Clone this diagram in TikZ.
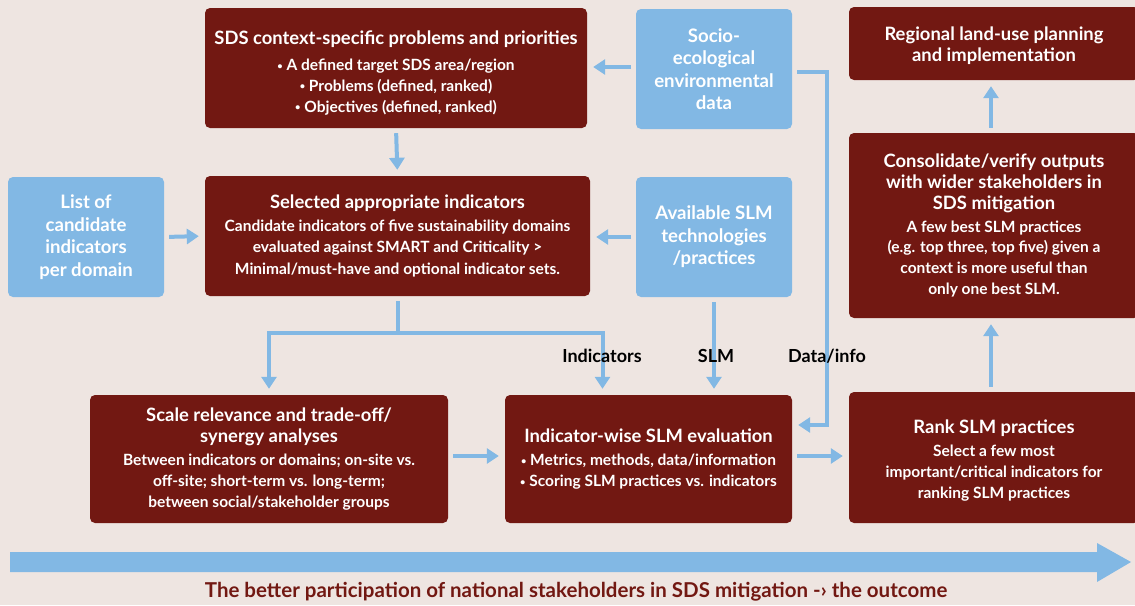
\documentclass[tikz,border=0pt]{standalone}
\usepackage{fontspec}
\setmainfont{Lato}
\usetikzlibrary{arrows.meta,positioning}

\definecolor{boxred}{HTML}{721812}
\definecolor{boxblue}{HTML}{82B8E4}
\definecolor{paper}{HTML}{EEE5E1}

\tikzset{
  redbox/.style={fill=boxred, rounded corners=5pt, text=white, align=center,
    font=\bfseries\fontsize{15.5}{20.8}\selectfont, inner sep=0pt},
  bluebox/.style={fill=boxblue, rounded corners=5pt, text=white, align=center,
    font=\bfseries\fontsize{18.6}{22.5}\selectfont, inner sep=0pt,
    minimum width=156pt, minimum height=120pt},
  flow/.style={draw=boxblue, line width=4pt, shorten <=5pt, shorten >=6pt,
    -{Triangle[length=12pt,width=15pt]}},
  flowlabel/.style={font=\bfseries\fontsize{18}{20}\selectfont, text=black}
}
\newcommand\boxtitle[1]{{\fontsize{18.4}{22}\selectfont #1}}
\newcommand\bul{\raisebox{0.2ex}{\scalebox{0.6}{\textbullet}}\ }
\newcommand\topgap[1]{\rule{0pt}{#1}}

\begin{document}
\begin{tikzpicture}[x=1pt,y=-1pt]

\fill[paper] (0,0) rectangle (1135,605);
\useasboundingbox (0,0) rectangle (1135,605);

% top row
\node[redbox, minimum width=382pt, minimum height=120pt] (sds) at (396,68)
  {\boxtitle{\topgap{24pt}SDS context-specific problems and priorities}\\[5pt]
   \bul A defined target SDS area/region\\
   \bul Problems (defined, ranked)\\
   \bul Objectives (defined, ranked)};
\node[bluebox] (socio) at (714,69) {Socio-\\ecological\\environmental\\data};
\node[redbox, minimum width=290pt, minimum height=73pt] (regional) at (994,43.5)
  {\boxtitle{\topgap{18pt}Regional land-use planning}\\\boxtitle{and implementation}};

% middle row
\node[bluebox] (list) at (86,237) {List of\\candidate\\indicators\\per domain};
\node[redbox, minimum width=385pt, minimum height=120pt] (sel) at (397.5,236)
  {\boxtitle{Selected appropriate indicators}\\[2pt]
   Candidate indicators of five sustainability domains\\[1pt]
   evaluated against SMART and Criticality >\\[1pt]
   Minimal/must-have and optional indicator sets.};
\node[bluebox] (avail) at (714,237) {Available SLM\\technologies\\/practices};
\node[redbox, minimum width=290pt, minimum height=185pt] (consol) at (994,225.5)
  {\boxtitle{Consolidate/verify outputs}\\
   \boxtitle{with wider stakeholders in}\\
   \boxtitle{SDS mitigation}\\[2pt]
   A few best SLM practices\\
   (e.g. top three, top five) given a\\
   context is more useful than\\
   only one best SLM.};

% bottom row
\node[redbox, minimum width=358pt, minimum height=128pt] (scale) at (269,459)
  {\boxtitle{Scale relevance and trade-off/}\\
   \boxtitle{synergy analyses}\\[2pt]
   Between indicators or domains; on-site vs.\\
   off-site; short-term vs. long-term;\\
   between social/stakeholder groups};
\node[redbox, minimum width=287pt, minimum height=128pt] (eval) at (648.5,459)
  {\boxtitle{Indicator-wise SLM evaluation}\\[3pt]
   \bul Metrics, methods, data/information\\
   \bul Scoring SLM practices vs. indicators};
\node[redbox, minimum width=290pt, minimum height=131pt] (rank) at (994,457.5)
  {\boxtitle{\topgap{20pt}Rank SLM practices}\\[2pt]
   Select a few most\\
   important/critical indicators for\\
   ranking SLM practices};

\coordinate (fork) at ([yshift=-37pt]sel.south);
\coordinate (rail) at (827,72);

% connectors
\draw[flow] (socio.west |- 0,67) -- (sds.east |- 0,67);
\draw[flow] (sds.south) -- (sel.north);
\draw[flow] (list.east) -- (sel.west);
\draw[flow] (avail.west) -- (sel.east |- avail.west);
\draw[flow] (sel.south) -- (fork) -| (scale.north);
\draw[flow, shorten <=0pt] (fork) -| ([xshift=-46pt]eval.north);
\draw[flow] (avail.south) -- (avail.south |- eval.north);
\draw[flow] (socio.east |- rail) -- (rail) |- ([yshift=34pt]eval.east);
\draw[flow] (scale.east |- 0,456) -- (eval.west |- 0,456);
\draw[flow] (eval.east |- 0,456) -- (rank.west |- 0,456);
\draw[flow] (rank.north -| 991,0) -- (consol.south -| 991,0);
\draw[flow] (consol.north -| 991,0) -- (regional.south -| 991,0);

\node[flowlabel] (lblind) at (602,356) {Indicators};
\node[flowlabel] (lblslm) at (716,356) {SLM};
\node[flowlabel] (lbldata) at (827,356) {Data/info};

% outcome arrow
\fill[boxblue] (10,552) -- (1097,552) -- (1097,543) -- (1131,562) -- (1097,582)
  -- (1097,572) -- (10,572) -- cycle;
\node[text=boxred, font=\bfseries\fontsize{20.5}{22}\selectfont] (outcome) at (576,592)
  {The better participation of national stakeholders in SDS mitigation -› the outcome};

\end{tikzpicture}
\end{document}
